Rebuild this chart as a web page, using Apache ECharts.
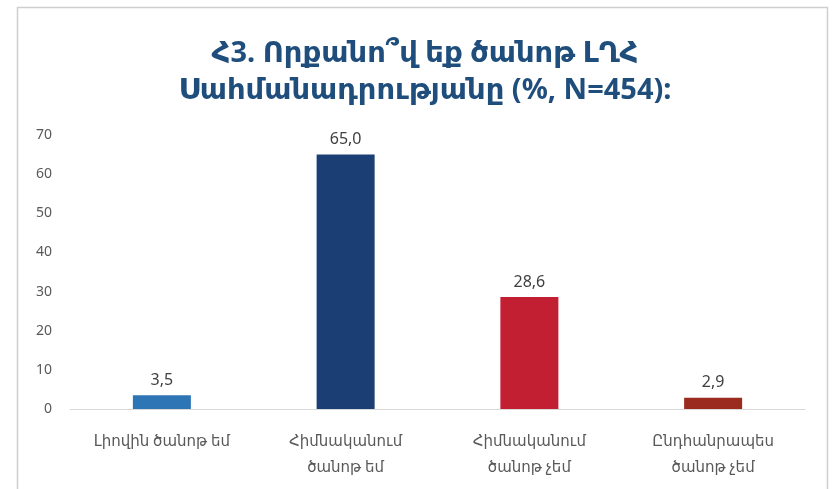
<!DOCTYPE html>
<html><head><meta charset="utf-8">
<script src="https://cdn.jsdelivr.net/npm/echarts@6/dist/echarts.min.js"></script>
<style>html,body{margin:0;padding:0;background:#fff}#c{width:832px;height:489px}</style>
</head><body><div id="c"></div>
<script>
const titleText = "Հ3. Որքանո՞վ եք ծանոթ ԼՂՀ\nՍահմանադրությանը (%, N=454):";
const categories = ["Լիովին ծանոթ եմ", "Հիմնականում\nծանոթ եմ", "Հիմնականում\nծանոթ չեմ", "Ընդհանրապես\nծանոթ չեմ"];
const values = [3.5, 65.0, 28.6, 2.9];
const barColors = ["#2e75b6", "#1b3f74", "#c21f33", "#9c2b1f"];
const yTicks = [0, 10, 20, 30, 40, 50, 60, 70];

const chart = echarts.init(document.getElementById('c'));
chart.setOption({
  backgroundColor: '#fff',
  animation: false,
  title: {
    text: titleText, left: 420, textAlign: 'center', top: 30,
    textStyle: { fontFamily: 'Noto Sans, DejaVu Sans, sans-serif', fontSize: 29, fontWeight: 'bold', color: '#1f4e7d', lineHeight: 37 }
  },
  graphic: [{ type: 'rect', shape: { x: 17.5, y: 7.5, width: 810, height: 500 }, style: { fill: 'none', stroke: '#cfcfcf', lineWidth: 1.5 }, silent: true }],
  grid: { left: 70, right: 27, top: 135, bottom: 80 },
  xAxis: {
    type: 'category', data: categories,
    axisLine: { lineStyle: { color: '#d9d9d9' } }, axisTick: { show: false },
    axisLabel: { color: '#595959', fontSize: 15, fontFamily: 'Noto Sans, DejaVu Sans, sans-serif', lineHeight: 26, margin: 20, interval: 0 }
  },
  yAxis: {
    type: 'value', min: 0, max: 70, interval: 10,
    axisLine: { show: false }, axisTick: { show: false }, splitLine: { show: false },
    axisLabel: { color: '#595959', fontSize: 14, fontFamily: 'Noto Sans, DejaVu Sans, sans-serif', margin: 18,
      formatter: v => yTicks.includes(v) ? String(v) : '' }
  },
  series: [{
    type: 'bar', barWidth: 58,
    data: values.map((v, i) => ({ value: v, itemStyle: { color: barColors[i] } })),
    label: { show: true, position: 'top', distance: 7, color: '#404040', fontSize: 16, fontFamily: 'Noto Sans, DejaVu Sans, sans-serif',
      formatter: p => p.value.toFixed(1).replace('.', ',') }
  }]
});
</script></body></html>
